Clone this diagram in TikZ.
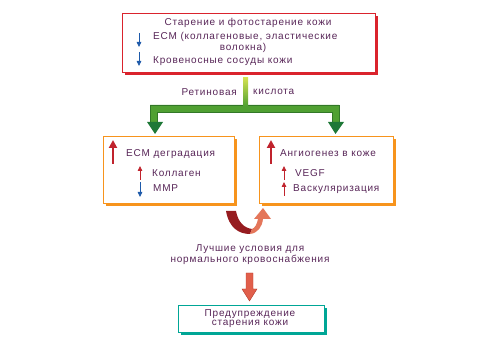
\documentclass[tikz,border=0pt]{standalone}
\usepackage{fontspec}
\setmainfont{Liberation Sans}[LetterSpace=8]
\usetikzlibrary{arrows.meta,shadows}
\definecolor{txt}{RGB}{88,38,88}
\definecolor{redc}{RGB}{218,35,45}
\definecolor{orangec}{RGB}{247,148,29}
\definecolor{tealc}{RGB}{0,166,150}
\definecolor{bluec}{RGB}{30,90,170}
\definecolor{arrred}{RGB}{192,35,45}
\definecolor{gbar}{RGB}{80,160,50}
\definecolor{gdark}{RGB}{30,120,55}
\definecolor{gedge}{RGB}{50,120,40}
\definecolor{gtop}{RGB}{210,225,80}
\definecolor{cdark}{RGB}{150,28,32}
\definecolor{clight}{RGB}{228,118,90}
\definecolor{salmon}{RGB}{225,95,75}
\definecolor{salmonedge}{RGB}{180,60,45}
\begin{document}
\begin{tikzpicture}[x=1pt,y=-1pt,
  every node/.style={font=\fontsize{10}{11}\selectfont, text=txt, inner sep=0pt},
  framebox/.style={draw=#1, fill=white, line width=0.8pt,
    drop shadow={shadow xshift=3pt, shadow yshift=-3pt, fill=#1, opacity=1}},
  downarr/.style={bluec, line width=0.8pt, -{Triangle[width=4.5pt,length=5pt]}},
  uparr/.style={arrred, line width=0.8pt, -{Triangle[width=4.5pt,length=5pt]}},
  bigup/.style={arrred, line width=2pt, -{Triangle[width=8pt,length=8pt]}}]
\useasboundingbox (0,0) rectangle (500,352);

% top box
\node[framebox=redc, minimum width=253pt, minimum height=59pt, anchor=north west] (top) at (122,13) {};
\node (t1) at (248,23) {Старение и фотостарение кожи};
\node[anchor=west] (t2) at (153,37) {ECM (коллагеновые, эластические};
\node (t3) at (243,48) {волокна)};
\node[anchor=west] (t4) at (153,61) {Кровеносные сосуды кожи};
\draw[downarr] (139,33) -- (139,47);
\draw[downarr] (139,52) -- (139,66);

% green splitting arrow
\coordinate (gs) at (245.5,78);
\fill[gbar, draw=gedge, line width=0.4pt] (150,105) -- (339,105) -- (339,122) -- (332,122) -- (332,112) -- (157,112) -- (157,122) -- (150,122) -- cycle;
\shade[top color=gtop, bottom color=gbar] (243,78) rectangle (248,106);
\fill[gdark] (147,122) -- (163,122) -- (155,134) -- cycle;
\fill[gdark] (328,122) -- (344,122) -- (335.5,134) -- cycle;
\node[anchor=east] (r1) at (237,92) {Ретиновая};
\node[anchor=west] (r2) at (253,92) {кислота};

% left box
\node[framebox=orangec, minimum width=131pt, minimum height=67pt, anchor=north west] (lb) at (103,136) {};
\draw[bigup] (113,164) -- (113,140);
\node[anchor=west] (l1) at (126,154) {ECM деградация};
\draw[uparr] (140,180) -- (140,166);
\node[anchor=west] (l2) at (152,173) {Коллаген};
\draw[downarr] (140,182) -- (140,197);
\node[anchor=west] (l3) at (153,188) {MMP};

% right box
\node[framebox=orangec, minimum width=134pt, minimum height=67pt, anchor=north west] (rb) at (259,136) {};
\draw[bigup] (271,164) -- (271,140);
\node[anchor=west] (q1) at (280,153) {Ангиогенез в коже};
\draw[uparr] (284,180) -- (284,166);
\node[anchor=west] (q2) at (295,173) {VEGF};
\draw[uparr] (284,196) -- (284,182);
\node[anchor=west] (q3) at (293,189) {Васкуляризация};

% curved arrow
\fill[cdark] (226,211) .. controls (229,228) and (239,234) .. (250,234) -- (252,229) .. controls (244,228) and (238,222) .. (236,211) -- cycle;
\fill[clight] (250,234) .. controls (258,233) and (262,227) .. (263,219) -- (271,219) -- (263,208) -- (254,219) -- (258,219) .. controls (257,224) and (255,228) .. (252,229) -- cycle;

\node (m1) at (250,249) {Лучшие условия для};
\node (m2) at (250,260) {нормального кровоснабжения};

% down arrow
\fill[salmon, draw=salmonedge, line width=0.4pt] (246,273) -- (253,273) -- (253,289) -- (257,289) -- (249.5,301) -- (242,289) -- (246,289) -- cycle;

% bottom box
\node[framebox=tealc, minimum width=146pt, minimum height=27pt, anchor=north west] (bb) at (178,305) {};
\node (b1) at (250,314) {Предупреждение};
\node (b2) at (250,324) {старения кожи};
\end{tikzpicture}
\end{document}
